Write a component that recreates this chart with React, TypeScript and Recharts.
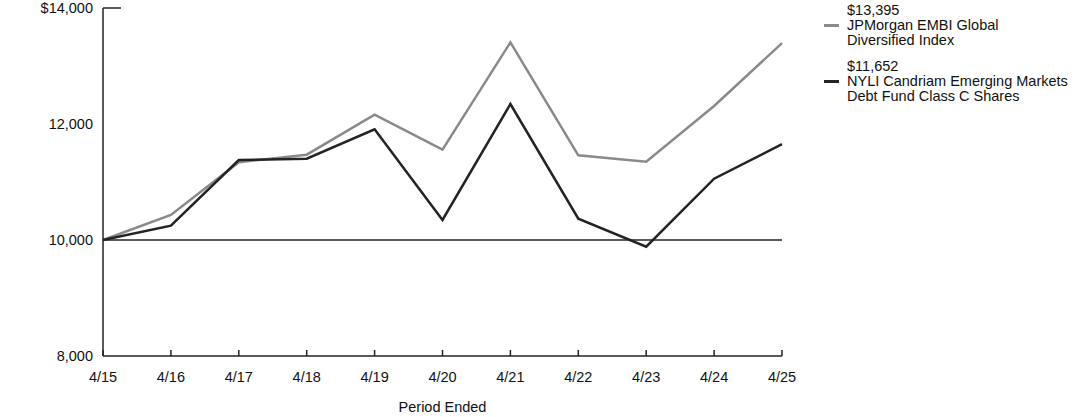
import React from 'react';
import { LineChart, Line, XAxis, YAxis, ReferenceLine } from 'recharts';

const periods = ['4/15', '4/16', '4/17', '4/18', '4/19', '4/20', '4/21', '4/22', '4/23', '4/24', '4/25'];
const indexValues = [10000, 10431, 11340, 11471, 12161, 11557, 13408, 11460, 11350, 12310, 13395];
const fundValues = [10000, 10247, 11379, 11402, 11908, 10345, 12345, 10367, 9885, 11057, 11652];
const yTicks = [8000, 10000, 12000, 14000];

const indexName = 'JPMorgan EMBI Global Diversified Index';
const fundName = 'NYLI Candriam Emerging Markets Debt Fund Class C Shares';

const data = periods.map((p, i) => ({ name: p, index: indexValues[i], fund: fundValues[i] }));

const FONT = '"Liberation Sans", Arial, sans-serif';
const FS = 14.5;
const GRAY = '#8a8a8a';
const DARK = '#232323';

const fmt = (v: number) => v.toLocaleString('en-US');

const XTick = (props: any) => {
    const { x, y, payload } = props;
    // tickSize 0, tickMargin 10 -> axis sits 10px above y
    return (
        <g>
            <line x1={x} y1={y - 10} x2={x} y2={y - 16} stroke={DARK} strokeWidth={1.5} />
            <text x={x} y={y} dy={16} textAnchor="middle" fill="#111" fontSize={FS} fontFamily={FONT}>
                {payload.value}
            </text>
        </g>
    );
};

const YTick = (props: any) => {
    const { x, y, payload } = props;
    const top = payload.value === 14000;
    return (
        <g>
            {top && <line x1={x + 10} y1={y} x2={x + 28} y2={y} stroke={DARK} strokeWidth={1.5} />}
            <text x={x} y={y} dy={5} textAnchor="end" fill="#111" fontSize={FS} fontFamily={FONT}>
                {(top ? '$' : '') + fmt(payload.value)}
            </text>
        </g>
    );
};

const legendItems = [
    { value: indexValues[indexValues.length - 1], lines: ['JPMorgan EMBI Global', 'Diversified Index'], color: GRAY },
    { value: fundValues[fundValues.length - 1], lines: ['NYLI Candriam Emerging Markets', 'Debt Fund Class C Shares'], color: DARK },
];

const LegendBox = () => (
    <div style={{ position: 'absolute', left: 824, top: 3, fontFamily: FONT, fontSize: FS, color: '#111', lineHeight: '15px' }}>
        {legendItems.map((it, i) => (
            <div key={i} style={{ position: 'relative', paddingLeft: 23, marginBottom: 11 }}>
                <div>${fmt(it.value)}</div>
                <div style={{ position: 'absolute', left: 0, top: 21, width: 15, height: 2.5, background: it.color }} />
                {it.lines.map((l, j) => <div key={j}>{l}</div>)}
            </div>
        ))}
    </div>
);

export default function App() {
    return (
        <div style={{ position: 'absolute', left: 0, top: 0, width: 1092, height: 417, background: '#fff' }}>
            <LineChart width={1092} height={417} data={data} margin={{ top: 8, right: 310, bottom: 0, left: 0 }}>
                <XAxis
                    dataKey="name"
                    height={61}
                    tickSize={0}
                    tickMargin={10}
                    tick={<XTick />}
                    interval={0}
                    stroke={DARK}
                    strokeWidth={1.5}
                    padding={{ left: 0, right: 0 }}
                    label={{ value: 'Period Ended', position: 'insideBottom', offset: 5, fill: '#111', fontSize: FS, fontFamily: FONT }}
                />
                <YAxis
                    width={103}
                    domain={[8000, 14000]}
                    ticks={yTicks}
                    interval={0}
                    tickSize={0}
                    tickMargin={10}
                    tick={<YTick />}
                    stroke={DARK}
                    strokeWidth={1.5}
                />
                <ReferenceLine y={10000} stroke={DARK} strokeWidth={1.5} />
                <Line type="linear" dataKey="index" name={indexName} stroke={GRAY} strokeWidth={2.5} dot={false} isAnimationActive={false} />
                <Line type="linear" dataKey="fund" name={fundName} stroke={DARK} strokeWidth={2.5} dot={false} isAnimationActive={false} />
            </LineChart>
            <LegendBox />
        </div>
    );
}
